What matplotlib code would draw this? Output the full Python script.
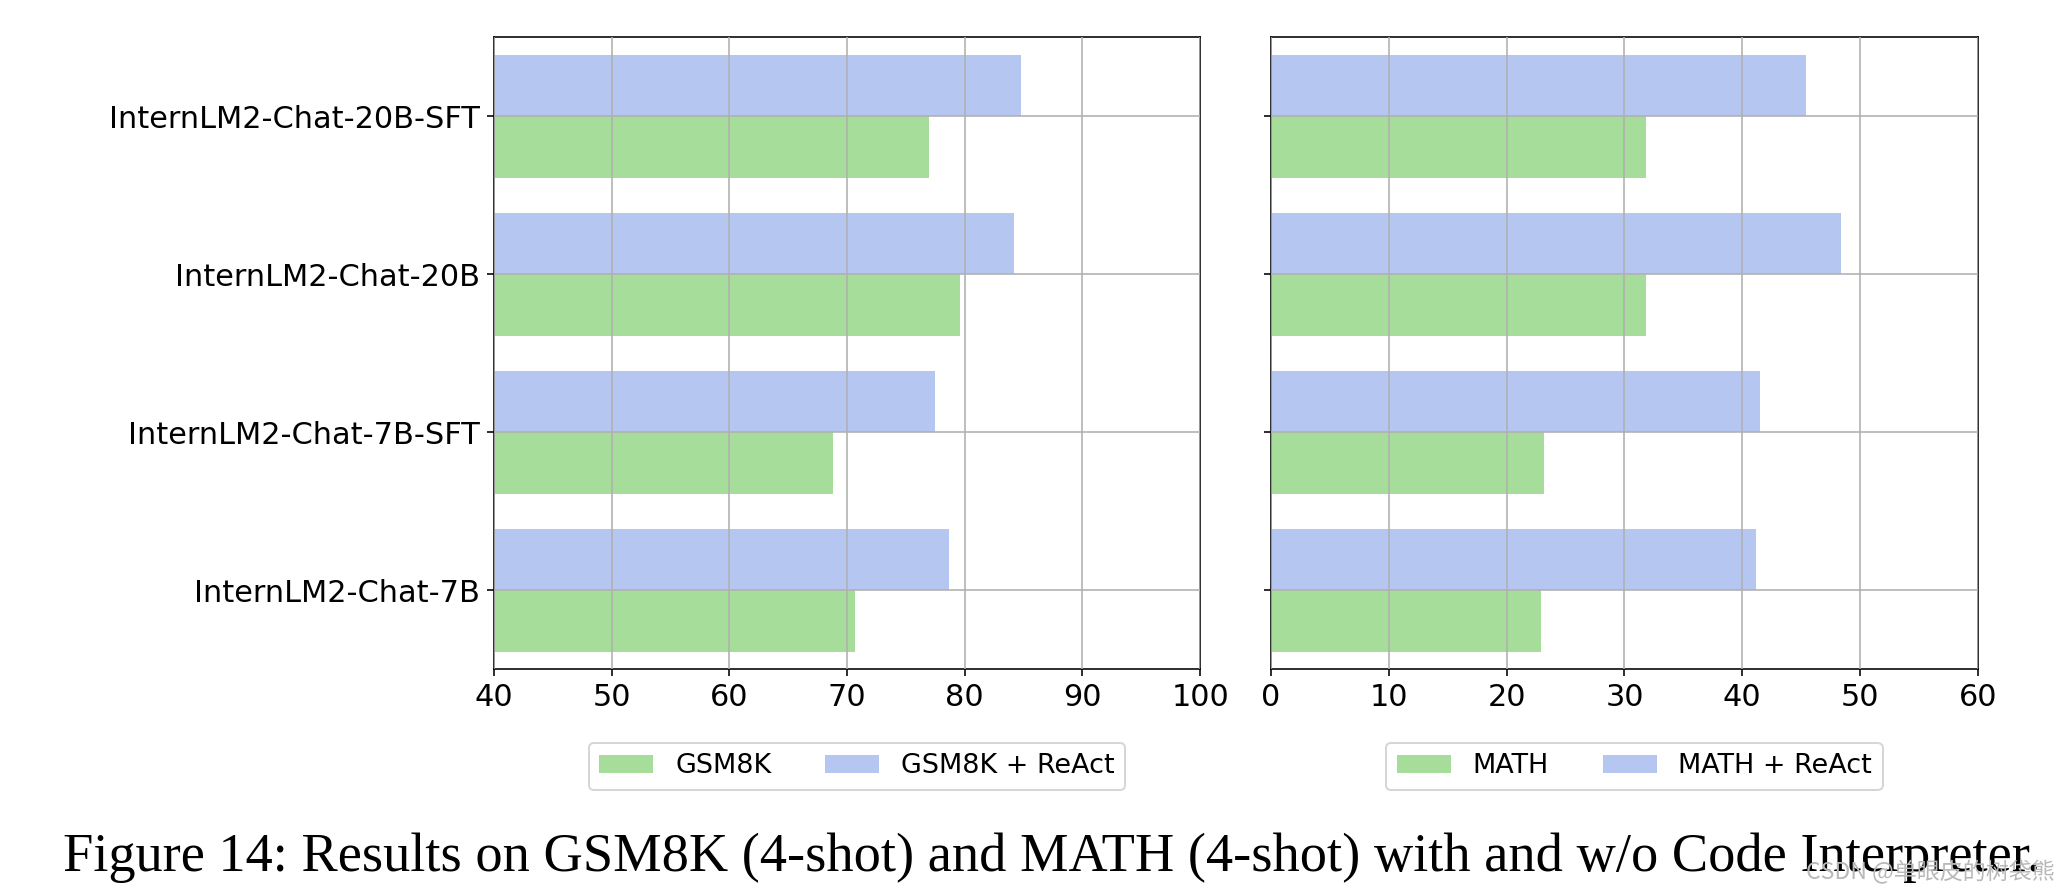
import numpy as np
import matplotlib
matplotlib.use("Agg")
import matplotlib.pyplot as plt

# values
models = ["InternLM2-Chat-7B", "InternLM2-Chat-7B-SFT",
          "InternLM2-Chat-20B", "InternLM2-Chat-20B-SFT"]
gsm8k = [70.7, 68.8, 79.6, 77.0]
gsm8k_react = [78.7, 77.5, 84.2, 84.8]
math_plain = [22.9, 23.2, 31.8, 31.8]
math_react = [41.2, 41.5, 48.4, 45.4]

green = "#a6dd9a"
blue = "#b5c7f1"
h = 0.39

dpi = 144
fig = plt.figure(figsize=(2067 / dpi, 891 / dpi), dpi=dpi)
ax1 = fig.add_axes([0.239, 0.249, 0.3416, 0.709])
ax2 = fig.add_axes([0.6149, 0.249, 0.342, 0.709])

y = np.arange(len(models))


def draw(ax, base, react, lab1, lab2, xlim, xticks):
    ax.barh(y - h / 2, base, height=h, color=green, label=lab1)
    ax.barh(y + h / 2, react, height=h, color=blue, label=lab2)
    ax.set_xlim(*xlim)
    ax.set_ylim(-0.5, len(models) - 0.5)
    ax.set_xticks(xticks)
    ax.set_yticks(y)
    ax.grid(True, color="#b0b0b0", linewidth=0.8)
    ax.set_axisbelow(False)
    ax.tick_params(labelsize=15.2)
    for s in ax.spines.values():
        s.set_color("black")
    ax.legend(loc="upper center", bbox_to_anchor=(0.514, -0.095), ncol=2,
              fontsize=13.5, frameon=True)


draw(ax1, gsm8k, gsm8k_react, "GSM8K", "GSM8K + ReAct", (40, 100),
     range(40, 101, 10))
ax1.set_yticklabels(models)

draw(ax2, math_plain, math_react, "MATH", "MATH + ReAct", (0, 60),
     range(0, 61, 10))
ax2.set_yticklabels([])

fig.text(0.509, 0.022, "Figure 14: Results on GSM8K (4-shot) and MATH (4-shot) "
         "with and w/o Code Interpreter.", ha="center", va="baseline",
         fontsize=27.2, family="Liberation Serif")

fig.text(0.994, 0.013, "CSDN @单眼皮的树袋熊", ha="right", va="baseline",
         fontsize=11.5, color="#b8b8b8",
         family=["Noto Sans CJK SC", "DejaVu Sans"])

fig.savefig("out.png", dpi=dpi)
